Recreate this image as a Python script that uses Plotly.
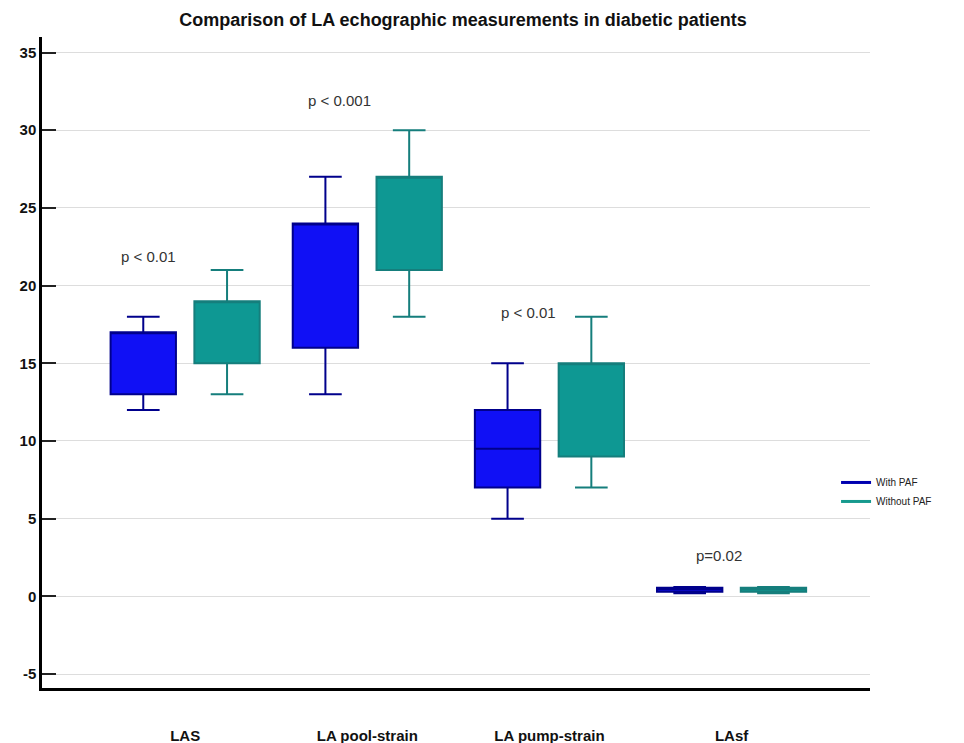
import plotly.graph_objects as go

categories = ["LAS", "LA pool-strain", "LA pump-strain", "LAsf"]

# With PAF
with_low = [12, 13, 5, 0.2]
with_q1 = [13, 16, 7, 0.3]
with_med = [17, 24, 9.5, 0.45]
with_q3 = [17, 24, 12, 0.55]
with_high = [18, 27, 15, 0.6]

# Without PAF
wo_low = [13, 18, 7, 0.2]
wo_q1 = [15, 21, 9, 0.3]
wo_med = [19, 27, 15, 0.45]
wo_q3 = [19, 27, 15, 0.55]
wo_high = [21, 30, 18, 0.6]

y_ticks = [-5, 0, 5, 10, 15, 20, 25, 30, 35]
y_tick_text = ["-5", "0", "5", "10", "15", "20", "25", "30", "35"]

p_labels = ["p < 0.01", "p < 0.001", "p < 0.01", "p=0.02"]
p_x = [-0.2, 0.85, 1.885, 2.93]
p_y = [21.9, 31.9, 18.3, 2.6]

blue_fill = "#1010F5"
blue_line = "#00008C"
teal_fill = "#0E9893"
teal_line = "#157E7C"

fig = go.Figure()
fig.add_trace(go.Box(
    name="With PAF", x=categories, q1=with_q1, median=with_med, q3=with_q3,
    lowerfence=with_low, upperfence=with_high,
    fillcolor=blue_fill, line=dict(color=blue_line, width=2),
    whiskerwidth=0.5, showlegend=False, boxpoints=False,
))
fig.add_trace(go.Box(
    name="Without PAF", x=categories, q1=wo_q1, median=wo_med, q3=wo_q3,
    lowerfence=wo_low, upperfence=wo_high,
    fillcolor=teal_fill, line=dict(color=teal_line, width=2),
    whiskerwidth=0.5, showlegend=False, boxpoints=False,
))
# legend entries as lines
fig.add_trace(go.Scatter(x=[None], y=[None], mode="lines", name="With PAF",
                         line=dict(color="#0000B0", width=3)))
fig.add_trace(go.Scatter(x=[None], y=[None], mode="lines", name="Without PAF",
                         line=dict(color="#169A8E", width=3)))

for t, x, y in zip(p_labels, p_x, p_y):
    fig.add_annotation(x=x, y=y, xref="x", yref="y", text=t, showarrow=False,
                       font=dict(family="Liberation Sans, Arial", size=15, color="#333333"))

fig.update_layout(
    width=964, height=743,
    paper_bgcolor="white", plot_bgcolor="white",
    margin=dict(l=34, r=102, t=29, b=63, autoexpand=False),
    boxmode="group", boxgap=0.08, boxgroupgap=0.22,
    title=dict(text="<b>Comparison of LA echographic measurements in diabetic patients</b>",
               x=0.472, xanchor="center", y=0.984, yanchor="middle",
               font=dict(family="Liberation Sans Narrow, Liberation Sans, Arial", size=18, color="#111111")),
    legend=dict(x=0.959, y=0.338, xanchor="left", yanchor="top",
                bgcolor="rgba(0,0,0,0)", font=dict(family="Liberation Sans, Arial", size=10, color="#222222"),
                tracegroupgap=0, itemwidth=30),
    font=dict(family="Liberation Sans, Arial"),
)
fig.update_xaxes(
    type="category", range=[-0.786, 3.76], automargin=False,
    showline=True, linecolor="black", linewidth=2.5,
    showgrid=False, ticks="", ticklabelstandoff=32,
    tickfont=dict(family="Liberation Sans, Arial", size=15, color="#111111", weight="bold"),
    zeroline=False,
)
fig.update_yaxes(
    range=[-5.9, 36], tickvals=y_ticks, ticktext=y_tick_text, automargin=False,
    showline=True, linecolor="black", linewidth=2.5,
    ticks="inside", ticklen=14, tickwidth=2, tickcolor="#222222",
    showgrid=True, gridcolor="#DDDDDD", gridwidth=1,
    zeroline=False,
    tickfont=dict(family="Liberation Sans, Arial", size=15, color="#111111", weight="bold"),
)

fig.write_html("out.html")
